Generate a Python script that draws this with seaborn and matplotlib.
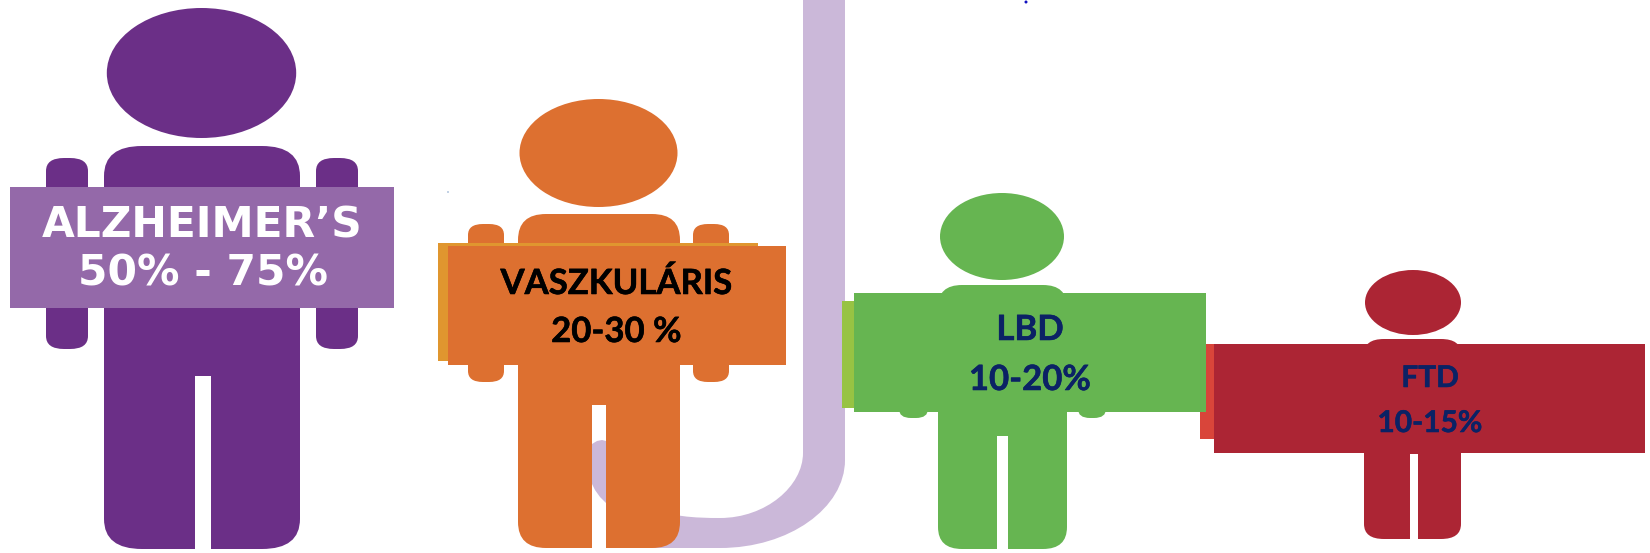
import matplotlib
matplotlib.use('Agg')
import matplotlib.pyplot as plt
import matplotlib.patheffects as pe
import seaborn as sns
from matplotlib.patches import Ellipse, Rectangle, FancyBboxPatch, PathPatch, Polygon
from matplotlib.path import Path

# chart content
names = ["ALZHEIMER\u2019S", "VASZKUL\u00c1RIS", "LBD", "FTD"]
shares = ["50% - 75%", "20-30 %", "10-20%", "10-15%"]

# colours
body_colors = sns.color_palette(["#6B2F87", "#DD7030", "#66B551", "#AC2534"])
sign_colors = ["#9469A9", "#DD7030", "#66B551", "#AC2534"]
back_colors = [None, "#E0962F", "#97C343", "#D9453A"]
text_colors = ["white", "black", "#0B2265", "#0B2265"]
tube_color = "#CBB8D9"

# pictogram layout in pixels of the 1650x553 canvas
heads = [(201.5, 73, 94.7, 65), (598.5, 153, 79, 54), (1002, 236.5, 62, 43.5), (1413, 302.5, 48, 32.5)]
bodies = [(104, 300, 146, 549), (518, 680, 214, 548), (938, 1067, 285, 549), (1364, 1461, 339, 539)]
gaps = [(195, 211, 376), (592, 606, 405), (997, 1008, 436), (1410, 1418, 454)]
arms = [(46, 88, 316, 358, 158, 349), (468, 504, 693, 729, 224, 382),
        (899, 928, 1078, 1106, 293, 418), (1380, 1400, 1420, 1440, 345, 400)]
arm_radii = [(18, 13), (15, 11), (12, 9), (8, 6)]
radii = [(38, 30), (28, 26), (24, 22), (20, 15)]
signs = [(10, 394, 187, 308), (448, 786, 246, 365), (854, 1206, 293, 412), (1214, 1645, 344, 453)]
backs = [None, (438, 758, 243, 361), (842, 1100, 301, 408), (1199.5, 1400, 344, 439)]
text_pos = [(202.5, 226, 273), (616.5, 284, 332), (1030, 330, 380), (1430, 378, 423)]
font_sizes = [30.5, 25, 25, 21.5]
font_names = ["DejaVu Sans", "Lato", "Lato", "Lato"]

sns.set_theme(style="white")
fig, ax = plt.subplots(figsize=(16.5, 5.53), dpi=100)
fig.subplots_adjust(0, 0, 1, 1)
ax.set_xlim(0, 1650)
ax.set_ylim(553, 0)
ax.set_xticks([])
ax.set_yticks([])
sns.despine(ax=ax, left=True, bottom=True)


def rounded(x0, x1, y0, y1, rx, ry, color, z):
    ax.add_patch(FancyBboxPatch((x0, y0), x1 - x0, y1 - y0,
                                boxstyle=f"round,pad=0,rounding_size={rx}",
                                mutation_aspect=ry / rx, fc=color, ec="none", zorder=z))


# the lilac tube behind the second and third person
tube = Path(
    [(803, 0), (845, 0), (845, 460), (845, 508), (789, 548), (720, 548),
     (640, 548), (640, 505), (670, 517), (695, 518), (720, 518),
     (766, 518), (803, 486), (803, 453), (803, 0)],
    [Path.MOVETO, Path.LINETO, Path.LINETO, Path.CURVE4, Path.CURVE4, Path.CURVE4,
     Path.LINETO, Path.LINETO, Path.CURVE4, Path.CURVE4, Path.CURVE4,
     Path.CURVE4, Path.CURVE4, Path.CURVE4, Path.CLOSEPOLY])
ax.add_patch(PathPatch(tube, fc=tube_color, ec="none", zorder=1))

for i in range(len(names)):
    color = body_colors[i]
    cx, cy, rx, ry = heads[i]
    ax.add_patch(Ellipse((cx, cy), rx * 2, ry * 2, fc=color, ec="none", zorder=2))

    x0, x1, y0, y1 = bodies[i]
    rounded(x0, x1, y0, y1, radii[i][0], radii[i][1], color, 2)
    g0, g1, gy = gaps[i]
    ax.add_patch(Rectangle((g0, gy), g1 - g0, y1 - gy + 2, fc="white", ec="none", zorder=2.1))

    a0, a1, a2, a3, ay0, ay1 = arms[i]
    rounded(a0, a1, ay0, ay1, arm_radii[i][0], arm_radii[i][1], color, 2)
    rounded(a2, a3, ay0, ay1, arm_radii[i][0], arm_radii[i][1], color, 2)

    if backs[i] is not None:
        b0, b1, by0, by1 = backs[i]
        ax.add_patch(Rectangle((b0, by0), b1 - b0, by1 - by0, fc=back_colors[i], ec="none", zorder=3))
    s0, s1, sy0, sy1 = signs[i]
    ax.add_patch(Rectangle((s0, sy0), s1 - s0, sy1 - sy0, fc=sign_colors[i], ec="none", zorder=4))

    tx, ty1, ty2 = text_pos[i]
    for label, ty in ((names[i], ty1), (shares[i], ty2)):
        t = ax.text(tx, ty, label, ha="center", va="center", color=text_colors[i],
                    fontsize=font_sizes[i], fontweight="bold", family=font_names[i], zorder=5)
        if font_names[i] == "Lato":
            t.set_path_effects([pe.withStroke(linewidth=0.4, foreground=text_colors[i])])

# lilac showing through the leg gap of the orange figure
ax.add_patch(Polygon([(592, 444), (597, 441), (602, 440), (606, 441), (606, 503),
                      (600, 497), (595, 490), (592, 484)],
                     fc=tube_color, ec="none", zorder=2.2))

# stray specks of the source picture
ax.add_patch(Ellipse((1026, 2), 3, 3, fc="#1010C0", ec="none", zorder=5))
ax.add_patch(Ellipse((448, 192), 1.5, 1.5, fc="#7A9CC6", ec="none", zorder=5))

fig.savefig("out.png", dpi=100)
